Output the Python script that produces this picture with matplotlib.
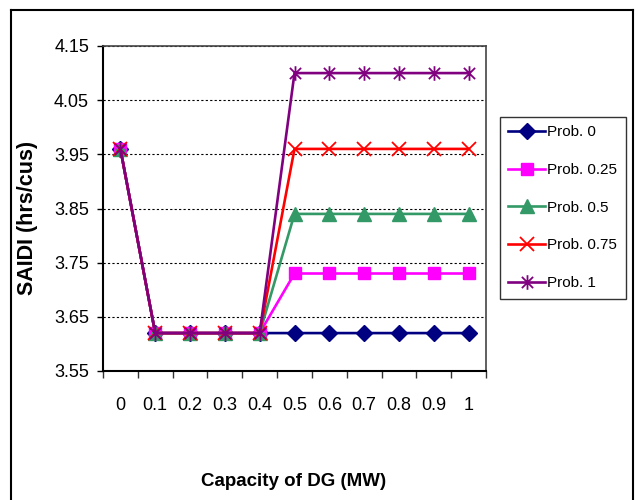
import matplotlib
matplotlib.use("Agg")
import matplotlib.pyplot as plt
from matplotlib.path import Path
from matplotlib.lines import Line2D
import numpy as np

# datos
capacidad = ["0", "0.1", "0.2", "0.3", "0.4", "0.5", "0.6", "0.7", "0.8", "0.9", "1"]
prob_0 = [3.96, 3.62, 3.62, 3.62, 3.62, 3.62, 3.62, 3.62, 3.62, 3.62, 3.62]
prob_025 = [3.96, 3.62, 3.62, 3.62, 3.62, 3.73, 3.73, 3.73, 3.73, 3.73, 3.73]
prob_05 = [3.96, 3.62, 3.62, 3.62, 3.62, 3.84, 3.84, 3.84, 3.84, 3.84, 3.84]
prob_075 = [3.96, 3.62, 3.62, 3.62, 3.62, 3.96, 3.96, 3.96, 3.96, 3.96, 3.96]
prob_1 = [3.96, 3.62, 3.62, 3.62, 3.62, 4.10, 4.10, 4.10, 4.10, 4.10, 4.10]
etiquetas = ["Prob. 0", "Prob. 0.25", "Prob. 0.5", "Prob. 0.75", "Prob. 1"]
y_ticks = [3.55, 3.65, 3.75, 3.85, 3.95, 4.05, 4.15]

fuente = ["Liberation Sans", "DejaVu Sans"]

# marcador estrella tipo Excel (x + linea vertical)
estrella = Path([(-1, -1), (1, 1), (-1, 1), (1, -1), (0, -1.3), (0, 1.3)],
                [Path.MOVETO, Path.LINETO, Path.MOVETO, Path.LINETO, Path.MOVETO, Path.LINETO])

fig = plt.figure(figsize=(6.38, 5.0), dpi=100)
ax = fig.add_axes([103/638, 1-371/500, (486-103)/638, (371-46)/500])

x = np.arange(len(capacidad))
series = [prob_0, prob_025, prob_05, prob_075, prob_1]
colores = ["#000080", "#FF00FF", "#339966", "#FF0000", "#800080"]
marcadores = ["D", "s", "^", "x", estrella]
tamanos = [8, 8.5, 10, 10, 10.5]

for s, c, m, t, lab in zip(series, colores, marcadores, tamanos, etiquetas):
    if m == "x" or m is estrella:
        ax.plot(x, s, color=c, lw=1.9, marker=m, ms=t, mec=c, mfc="none", mew=1.3, label=lab)
    else:
        ax.plot(x, s, color=c, lw=1.9, marker=m, ms=t, mec=c, mfc=c, label=lab)

ax.set_xlim(-0.5, len(capacidad) - 0.5)
ax.set_ylim(3.55, 4.15)
ax.set_yticks(y_ticks)
ax.set_yticklabels(["%.2f" % v for v in y_ticks], family=fuente, fontsize=13)
ax.set_xticks(x)
ax.set_xticklabels(capacidad, family=fuente, fontsize=13)
ax.set_xticks(np.arange(-0.5, len(capacidad)), minor=True)
ax.tick_params(axis="x", which="major", length=0, pad=19)
ax.tick_params(axis="x", which="minor", length=5, width=1, color="#333333")
ax.tick_params(axis="y", length=4, width=1, pad=6)

ax.grid(axis="y", linestyle=(0, (2, 2)), color="black", lw=0.8)
ax.set_axisbelow(True)
for lado in ["left", "bottom"]:
    ax.spines[lado].set_linewidth(1.5)
    ax.spines[lado].set_color("black")
for lado in ["top", "right"]:
    ax.spines[lado].set_linewidth(1.2)
    ax.spines[lado].set_color("#444444")

fig.text(28/638, 1-218/500, "SAIDI (hrs/cus)", fontsize=15.5, fontweight="bold",
         family=fuente, rotation=90, ha="center", va="center")
fig.text(294/638, 1-482/500, "Capacity of DG (MW)", fontsize=13.5, fontweight="bold",
         family=fuente, ha="center", va="center")

leg = fig.legend(loc="upper left", bbox_to_anchor=(500/638, 1-117/500), frameon=True,
                 fancybox=False, prop={"family": fuente, "size": 11}, handlelength=2.4,
                 handletextpad=0.15, labelspacing=1.55, borderpad=0.55, borderaxespad=0)
leg.get_frame().set_edgecolor("black")
leg.get_frame().set_linewidth(1)

# borde exterior del grafico
fig.add_artist(Line2D([11/638, 11/638], [0, 1-10/500], color="black", lw=1.5))
fig.add_artist(Line2D([11/638, 633/638], [1-10/500, 1-10/500], color="black", lw=1.5))
fig.add_artist(Line2D([633/638, 633/638], [0, 1-10/500], color="black", lw=1.5))

fig.savefig("out.png", dpi=100)
